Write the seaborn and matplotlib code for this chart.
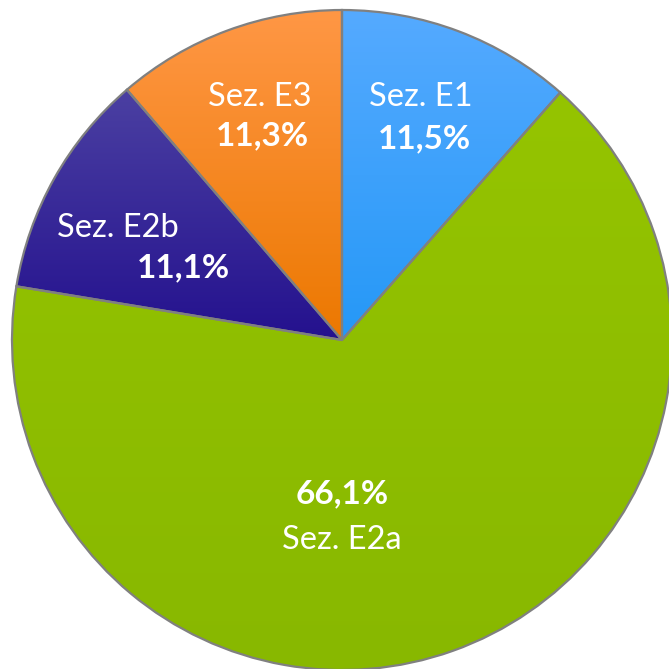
import matplotlib
matplotlib.use("Agg")
import matplotlib.pyplot as plt
import seaborn as sns
import numpy as np
from matplotlib.colors import LinearSegmentedColormap

# dati della torta (senso orario a partire dall'alto)
sezioni = ["Sez. E1", "Sez. E2a", "Sez. E2b", "Sez. E3"]
percentuali = [11.5, 66.1, 11.1, 11.3]
etichette_pct = ["11,5%", "66,1%", "11,1%", "11,3%"]

# colori con leggero gradiente (alto -> basso)
colori_alto = ["#55AAFF", "#95C400", "#4B40A2", "#FF9745"]
colori_basso = ["#2598F7", "#88B800", "#24118E", "#EC7800"]

# posizione delle etichette (nome, percentuale) in unità del raggio
pos_nome = [(0.24, 0.735), (0.0, -0.605), (-0.68, 0.34), (-0.25, 0.735)]
pos_pct = [(0.25, 0.61), (0.0, -0.465), (-0.48, 0.22), (-0.24, 0.62)]

sns.set_style("white")
plt.rcParams['font.family'] = ['Lato', 'DejaVu Sans']

fig = plt.figure(figsize=(6.69, 6.69), dpi=100)
ax = fig.add_axes([0, 0, 1, 1])

wedges, _ = ax.pie(percentuali, startangle=90, counterclock=False,
                   colors=colori_basso, radius=1.0,
                   wedgeprops=dict(linewidth=0))

# gradiente verticale dentro ogni spicchio
for w, c_top, c_bot in zip(wedges, colori_alto, colori_basso):
    bb = w.get_path().get_extents()
    cmap = LinearSegmentedColormap.from_list("g", [c_top, c_bot])
    grad = np.linspace(0, 1, 256).reshape(-1, 1)
    im = ax.imshow(grad, cmap=cmap, aspect="auto",
                   extent=[bb.x0, bb.x1, bb.y0, bb.y1], zorder=w.get_zorder() + 0.1)
    im.set_clip_path(w)

# bordi grigi sopra
ax.pie(percentuali, startangle=90, counterclock=False, radius=1.0,
       wedgeprops=dict(fill=False, edgecolor="#808080", linewidth=1.6, zorder=5))

for i in range(len(sezioni)):
    ax.text(pos_nome[i][0], pos_nome[i][1], sezioni[i], color="white",
            fontsize=23.5, ha="center", va="center", zorder=6)
    ax.text(pos_pct[i][0], pos_pct[i][1], etichette_pct[i], color="white",
            fontsize=24, fontweight="bold", ha="center", va="center", zorder=6)

ax.set_xlim(-342 / 330, 327 / 330)
ax.set_ylim(-329 / 330, 340 / 330)
ax.set_aspect("equal")
ax.axis("off")

fig.savefig("out.png", dpi=100)
